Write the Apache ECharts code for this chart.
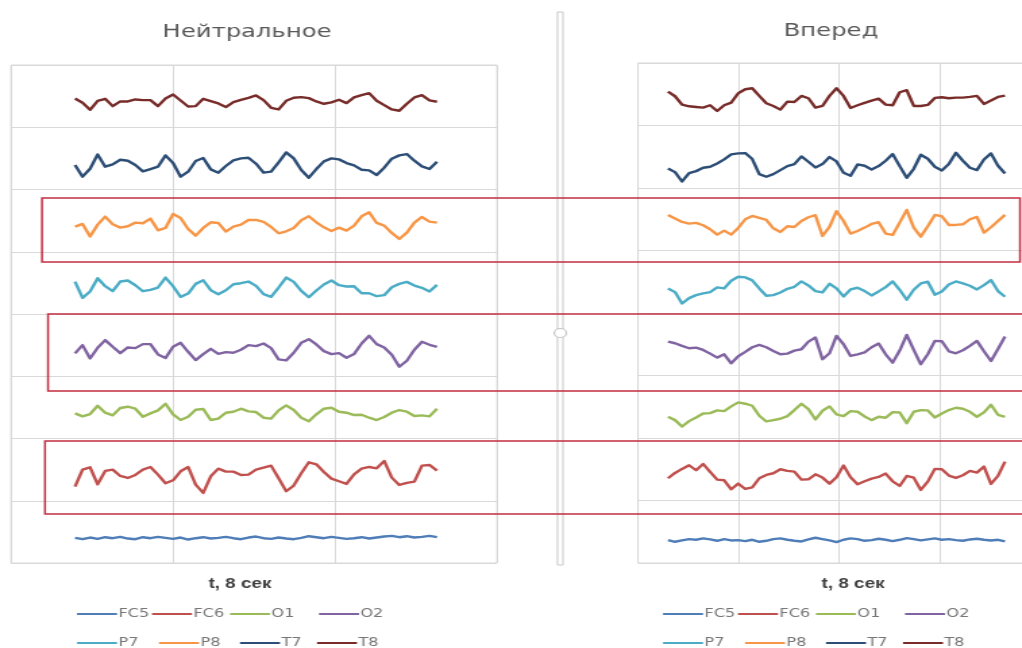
<!DOCTYPE html>
<html>
<head>
<meta charset="utf-8">
<script src="https://cdn.jsdelivr.net/npm/echarts@6/dist/echarts.min.js"></script>
<style>
  html, body { margin: 0; padding: 0; background: #fff; overflow: hidden; }
  #wrap { width: 1022px; height: 648px; overflow: hidden; }
  /* the figure is drawn narrow and widened horizontally as a whole */
  #chart { width: 757px; height: 648px; transform: scaleX(1.35); transform-origin: 0 0; }
</style>
</head>
<body>
<div id="wrap"><div id="chart"></div></div>
<script>
// EEG channels, from the bottom row of each panel to the top row
const channels = ['FC5', 'FC6', 'O1', 'O2', 'P7', 'P8', 'T7', 'T8'];
const channelColors = ['#4f7db8', '#c0504d', '#9bbb59', '#8064a2', '#4bacc6', '#f79646', '#2c4d75', '#772c2a'];
const panelTitles = ['Нейтральное', 'Вперед'];
const timeLabel = 't, 8 сек';

// "Нейтральное" recording: deviation of each channel from its row centre
const neutralFC5 = [-18,-22,-17,-21,-16,-19,-15,-20,-22,-16,-19,-15,-18,-21,-17,-23,-19,-16,-20,-18,-15,-19,-22,-17,-14,-19,-21,-17,-20,-22,-18,-13,-16,-19,-15,-18,-21,-19,-16,-20,-17,-14,-12,-16,-13,-17,-15,-12,-16];
const neutralFC6 = [-51,0,7,-44,-4,0,-19,-25,-16,0,8,-15,-41,-32,-5,8,-45,-70,-20,3,-6,-6,-16,-15,0,6,12,-26,-65,-48,-11,22,16,-7,-27,-35,-43,-14,3,8,4,26,-24,-46,-40,-36,12,14,-3];
const neutralO1  = [-18,-27,-20,5,-16,-24,-2,2,-4,-28,-18,-9,11,-21,-38,-28,-7,-5,-38,-34,-16,-13,-4,-12,-14,-31,-34,-9,6,-8,-31,-42,-21,-4,-1,-13,-16,-23,-22,-31,-38,-29,-16,-8,-13,-26,-24,-27,-4];
const neutralO2  = [-25,0,-40,-8,15,-5,-24,-7,-9,3,3,-28,-39,-5,7,-20,-45,-27,-11,-26,-21,-23,-14,0,-3,5,-9,-43,-46,-23,7,18,2,-18,-27,-24,-38,-27,5,28,3,-7,-29,-65,-47,-14,10,1,-5];
const neutralP7  = [4,-45,-26,14,-10,-25,4,7,-7,-25,-21,-14,16,-10,-42,-32,-3,8,-22,-34,-22,-4,-1,4,-9,-34,-42,-14,16,3,-24,-43,-23,-5,7,-7,-11,-10,-31,-31,-40,-37,-13,-3,3,-8,-15,-26,-6];
const neutralP8  = [-18,-10,-48,-12,12,-11,-21,-17,-6,-8,6,-29,-22,20,8,-25,-45,-22,-5,-7,-33,-18,-12,2,2,-4,-19,-38,-32,-22,1,13,-5,-20,-31,-21,-30,-15,13,25,-7,-15,-37,-55,-36,-6,11,-3,-6];
const neutralT7  = [-20,-55,-31,12,-25,-18,-4,-7,-20,-39,-32,-25,9,-14,-55,-40,-8,1,-33,-43,-23,-6,0,2,-16,-43,-40,-12,18,0,-35,-58,-32,-9,0,-3,-14,-21,-34,-36,-50,-28,-1,9,13,-7,-24,-32,-10];
const neutralT8  = [-7,-20,-41,-14,-8,-30,-16,-16,-10,-12,-12,-30,-7,5,-13,-31,-30,-8,-15,-22,-33,-18,-11,-5,2,-12,-35,-40,-14,-5,-3,-6,-16,-23,-19,-11,-21,-4,3,9,-14,-27,-40,-44,-23,-4,3,-13,-17];

// "Вперед" recording
const forwardFC5 = [-25,-30,-26,-22,-24,-20,-23,-27,-22,-26,-25,-28,-24,-30,-27,-22,-20,-24,-27,-29,-23,-18,-22,-26,-31,-24,-20,-22,-27,-25,-21,-24,-28,-24,-19,-22,-26,-23,-20,-24,-22,-25,-27,-23,-21,-24,-26,-24,-29];
const forwardFC6 = [-27,-11,1,12,-3,16,-8,-31,-33,-60,-43,-59,-54,-27,-17,-12,0,-5,-7,-31,-30,-15,-25,-43,-24,11,-24,-45,-36,-28,-23,-13,-36,-50,-20,-25,-62,-37,1,0,-19,-26,-18,-5,-10,8,-44,-20,23];
const forwardO1  = [-30,-40,-59,-43,-32,-20,-19,-11,-13,1,13,9,3,-27,-44,-40,-36,-28,-10,9,-7,-38,-12,1,-23,-28,-13,-15,-29,-40,-30,-33,-16,-17,-49,-15,-10,-11,-32,-20,-10,-3,-6,-15,-30,-17,6,-24,-30];
const forwardO2  = [8,3,-5,-12,-10,-17,-28,-40,-30,-57,-36,-23,-9,-2,-9,-20,-30,-28,-19,-15,8,20,-45,-27,25,0,-35,-30,-24,-9,2,-30,-55,-19,28,-17,-60,-30,10,9,-21,-27,-18,-5,10,-21,-50,-14,23];
const forwardP7  = [-20,-31,-65,-49,-40,-35,-31,-17,-20,3,15,13,4,-20,-42,-40,-32,-21,-15,1,-11,-28,-32,-6,-20,-44,-23,-18,-28,-41,-29,-16,1,-24,-54,-24,-5,0,-39,-29,-8,1,-5,-12,-23,-10,5,-28,-45];
const forwardP8  = [13,2,-8,-13,-11,-18,-30,-46,-34,-46,-26,0,10,4,-2,-27,-38,-21,-23,-5,6,12,-50,-23,24,-5,-43,-35,-25,-14,-9,-43,-47,-10,28,-25,-52,-21,13,9,-17,-17,-15,0,7,-40,-24,-5,13];
const forwardT7  = [-35,-46,-74,-49,-43,-33,-30,-20,-8,7,10,11,-7,-52,-60,-52,-40,-28,-22,1,-15,-32,-22,-1,-14,-48,-57,-23,-27,-38,-28,-12,8,-28,-63,-36,6,-6,-30,-41,-22,12,-12,-33,-40,-8,10,-27,-50];
const forwardT8  = [8,-6,-31,-36,-38,-40,-33,-50,-33,-25,3,15,18,-5,-27,-35,-46,-22,-23,-5,-12,-40,-35,-5,18,-5,-41,-33,-26,-19,-13,-31,-33,6,12,-35,-35,-32,-11,-9,-12,-10,-10,-8,-5,-29,-19,-8,-4];

const neutral = [neutralFC5, neutralFC6, neutralO1, neutralO2, neutralP7, neutralP8, neutralT7, neutralT8];
const forward = [forwardFC5, forwardFC6, forwardO1, forwardO2, forwardP7, forwardP8, forwardT7, forwardT8];

// value range given to every channel row
const BAND = 187;

// layout, in page pixels; the chart itself is laid out 1/S narrower
const S = 1.35;
const sx = v => v / S;

const panels = [
  { data: neutral, left: 11,  right: 497,  top: 65, bottom: 563, first: 75,  last: 437,  cols: 3,
    titleX: 247, titleY: 32, labelX: 240, legendX: 77 },
  { data: forward, left: 638, right: 1040, top: 63, bottom: 563, first: 668, last: 1005, cols: 4,
    titleX: 831, titleY: 31, labelX: 853, legendX: 663 }
];
// legend entries sit in fixed columns, two rows of four
const legendRowTop = [608, 637];
const legendColX = [[0, 75, 153, 242], [0, 82, 163, 240]];

const grid = [], xAxis = [], yAxis = [], series = [], legend = [], graphic = [];
const gridColor = '#d9d9d9';

panels.forEach((p, g) => {
  grid.push({
    left: sx(p.left), top: p.top, width: sx(p.right - p.left), height: p.bottom - p.top,
    outerBoundsMode: 'none', containLabel: false,
    show: true, borderColor: gridColor, borderWidth: 1
  });
  const n = p.data[0].length - 1;
  const perPx = n / (p.last - p.first);
  // sample axis (hidden) and the axis that only draws the vertical grid lines
  xAxis.push({ type: 'value', gridIndex: g, show: false,
    min: -(p.first - p.left) * perPx, max: n + (p.right - p.last) * perPx });
  xAxis.push({ type: 'value', gridIndex: g, min: 0, max: p.cols, interval: 1,
    axisLine: { show: false }, axisTick: { show: false }, axisLabel: { show: false },
    splitLine: { show: true, lineStyle: { color: gridColor, width: 1 } } });
  // one row per channel
  yAxis.push({ type: 'value', gridIndex: g, min: 0, max: 8, interval: 1,
    axisLine: { show: false }, axisTick: { show: false }, axisLabel: { show: false },
    splitLine: { show: true, lineStyle: { color: gridColor, width: 1 } } });
  channels.forEach((name, b) => {
    yAxis.push({ type: 'value', gridIndex: g, show: false,
      min: -(b + 0.5) * BAND, max: (7.5 - b) * BAND });
    series.push({
      type: 'line', name: name,
      xAxisIndex: 2 * g, yAxisIndex: yAxis.length - 1,
      data: p.data[b].map((v, i) => [i, v]),
      showSymbol: false, symbol: 'none', smooth: false,
      lineStyle: { width: 2.4, color: channelColors[b], join: 'round' },
      itemStyle: { color: channelColors[b] },
      emphasis: { disabled: true },
      z: 3
    });
  });

  // legend entries
  channels.forEach((name, k) => {
    const r = Math.floor(k / 4), c = k % 4;
    legend.push({
      data: [name], left: sx(p.legendX + legendColX[r][c]), top: legendRowTop[r],
      padding: 0, itemWidth: sx(40), itemHeight: 2, icon: 'rect',
      textStyle: { fontFamily: 'DejaVu Sans', fontSize: 12, color: '#777777',
        padding: [0, 0, 0, -4] }
    });
  });

  graphic.push({ type: 'text', x: sx(p.titleX), y: p.titleY,
    style: { text: panelTitles[g], align: 'center', verticalAlign: 'middle',
      fontFamily: 'DejaVu Sans', fontSize: 18, fill: '#595959' } });
  graphic.push({ type: 'text', x: sx(p.labelX), y: 584,
    style: { text: timeLabel, align: 'center', verticalAlign: 'middle',
      fontFamily: 'Liberation Sans', fontSize: 14, fontWeight: 'bold', fill: '#404040' } });
});

// splitter between the two panels
graphic.push({ type: 'rect', shape: { x: sx(557.5), y: 12, width: sx(5.5), height: 553 },
  style: { fill: '#ffffff', stroke: '#c8c8c8', lineWidth: 1 } });
graphic.push({ type: 'circle', shape: { cx: sx(560.3), cy: 333, r: 4.5 },
  style: { fill: '#ffffff', stroke: '#c4c4c4', lineWidth: 1.2 } });

// frames around the P8, O2 and FC6 rows of both recordings
const frameColor = '#c42e42';
[[42, 198, 978, 64], [48, 314, 1000, 77], [45, 441, 1000, 73]].forEach(f => {
  graphic.push({ type: 'rect', z: 10,
    shape: { x: sx(f[0]), y: f[1], width: sx(f[2]), height: f[3] },
    style: { fill: 'none', stroke: frameColor, lineWidth: 1.5 } });
});

const chart = echarts.init(document.getElementById('chart'), null, { renderer: 'canvas' });
chart.setOption({
  animation: false,
  backgroundColor: '#ffffff',
  grid, xAxis, yAxis, series, legend, graphic
});
</script>
</body>
</html>
